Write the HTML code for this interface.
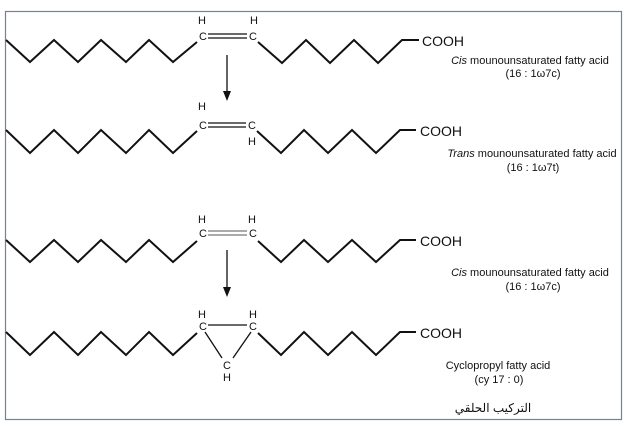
<!DOCTYPE html>
<html><head><meta charset="utf-8"><style>
html,body{margin:0;padding:0;background:#fff;}
svg{display:block;}
text{font-family:"Liberation Sans",sans-serif;fill:#111;}
</style></head><body>
<svg width="630" height="426" viewBox="0 0 630 426" xmlns="http://www.w3.org/2000/svg">
<rect x="5.5" y="11.5" width="616" height="408" fill="none" stroke="#6a85a0" stroke-width="1.2"/>
<g fill="none" stroke="#111" stroke-width="2" stroke-linejoin="miter">
<polyline points="6,40 30,62 54,40 78,62 101,40 126,62 149,40 173,62 197,42"/>
<polyline points="258,42 282,63 306,40 330,63 354,40 378,63 402,40 419,40"/>
<polyline points="6,130 30,153 54,130 78,153 101,130 126,153 149,130 173,153 197,131"/>
<polyline points="257,131 281,153 304,130 328,153 352,130 376,153 400,130 416,130"/>
<polyline points="6,240 30,262 54,240 78,262 101,240 126,262 149,240 173,262 197,241"/>
<polyline points="258,241 281,262 304,240 328,262 352,240 376,262 400,240 416,240"/>
<polyline points="6,332 30,355 54,332 78,355 101,332 126,355 149,332 173,355 197,333"/>
<polyline points="258,333 281,355 304,332 328,355 352,332 376,355 400,332 416,332"/>
</g>
<g stroke="#111" stroke-width="1.3">
<line x1="208" y1="34" x2="247" y2="34"/><line x1="208" y1="38" x2="247" y2="38"/>
<line x1="208" y1="123" x2="246" y2="123"/><line x1="208" y1="127" x2="246" y2="127"/>
<line x1="208" y1="231" x2="247" y2="231" stroke="#777"/><line x1="208" y1="235" x2="247" y2="235" stroke="#777"/>
<line x1="208" y1="325" x2="247" y2="325"/>
<line x1="205" y1="332" x2="222" y2="358"/><line x1="251" y1="332" x2="233" y2="358"/>
<line x1="227" y1="55" x2="227" y2="92"/>
<line x1="227" y1="250" x2="227" y2="288"/>
</g>
<polygon points="223,91 231,91 227,101" fill="#111"/>
<polygon points="223,287 231,287 227,297" fill="#111"/>
<g font-size="11" text-anchor="middle">
<text x="202" y="24">H</text><text x="254" y="24">H</text>
<text x="203" y="40">C</text><text x="253" y="40">C</text>
<text x="202" y="110">H</text>
<text x="203" y="129">C</text><text x="252" y="129">C</text>
<text x="252" y="145">H</text>
<text x="202" y="223">H</text><text x="252" y="223">H</text>
<text x="203" y="237">C</text><text x="253" y="237">C</text>
<text x="202" y="318">H</text><text x="253" y="318">H</text>
<text x="203" y="330">C</text><text x="253" y="330">C</text>
<text x="227" y="369">C</text><text x="227" y="381">H</text>
</g>
<g font-size="14">
<text x="422" y="46">COOH</text>
<text x="420" y="136">COOH</text>
<text x="420" y="246">COOH</text>
<text x="420" y="338">COOH</text>
</g>
<g font-size="11" text-anchor="middle">
<text x="530" y="64"><tspan font-style="italic">Cis</tspan> mounounsaturated fatty acid</text>
<text x="533" y="77">(16 : 1ω7c)</text>
<text x="532" y="157"><tspan font-style="italic">Trans</tspan> mounounsaturated fatty acid</text>
<text x="533" y="171">(16 : 1ω7t)</text>
<text x="530" y="276"><tspan font-style="italic">Cis</tspan> mounounsaturated fatty acid</text>
<text x="533" y="290">(16 : 1ω7c)</text>
<text x="498" y="369">Cyclopropyl fatty acid</text>
<text x="499" y="383">(cy 17 : 0)</text>
<text x="493" y="412" font-family="'DejaVu Sans',sans-serif" font-size="12">التركيب الحلقي</text>
</g>
</svg>
</body></html>
